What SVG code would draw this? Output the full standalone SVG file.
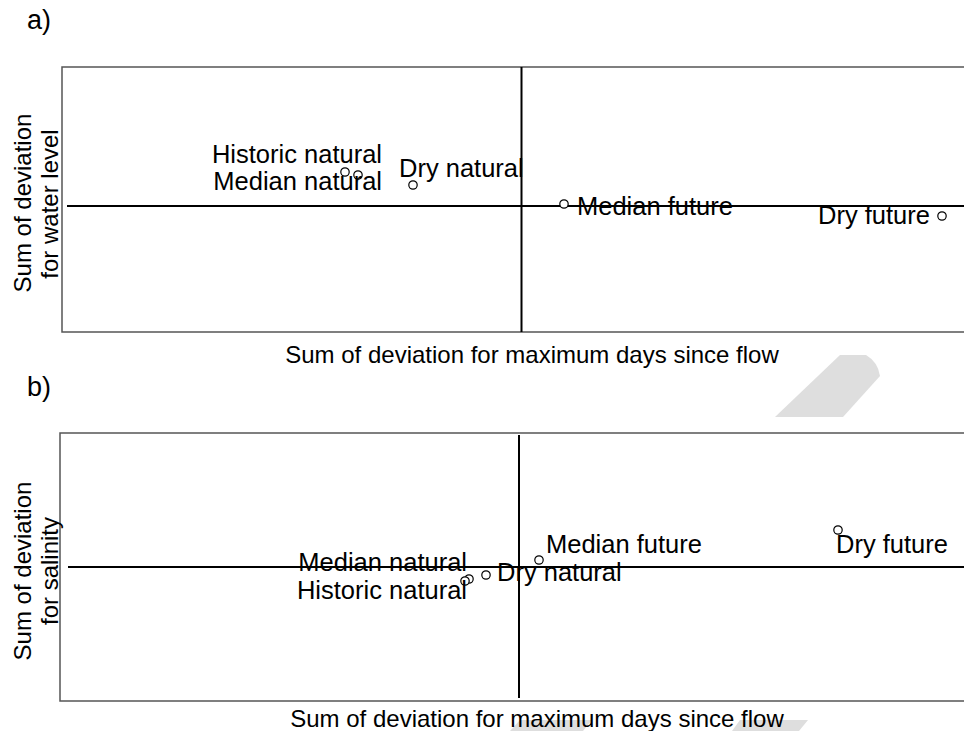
<svg xmlns="http://www.w3.org/2000/svg" width="964" height="731" viewBox="0 0 964 731">
<style>
text{font-family:"Liberation Sans",Arial,sans-serif;fill:#000}
.lbl{font-size:25.5px}
.ax{font-size:24px}
.pl{font-size:27px}
.frame{fill:none;stroke:#555;stroke-width:1.5}
.axis{stroke:#000;stroke-width:2}
.pt{fill:#fff;stroke:#000;stroke-width:1.2}
.wm{fill:#dedede}
</style>
<rect width="964" height="731" fill="#fff"/>
<g id="watermarks">
<path class="wm" d="M775,417 L840,355 L866,355 Q878,362 880,376 L843,417 Z"/>
<path class="wm" d="M520,720 L592,720 L583,731 L510,731 Z"/>
<path class="wm" d="M740,720 L808,720 L799,731 L732,731 Z"/>
</g>
<g id="panel-a">
<text class="pl" x="27" y="29">a)</text>
<rect class="frame" x="62" y="67" width="920" height="265"/>
<g id="axes-a">
<line class="axis" x1="67" y1="206" x2="964" y2="206"/>
<line class="axis" x1="521.5" y1="67" x2="521.5" y2="332"/>
</g>
<text class="ax" transform="translate(31,203) rotate(-90)" text-anchor="middle">Sum of deviation</text>
<text class="ax" transform="translate(58,204) rotate(-90)" text-anchor="middle">for water level</text>
<text class="ax" x="532" y="363" text-anchor="middle">Sum of deviation for maximum days since flow</text>
<g id="a-historic-natural"><circle class="pt" cx="345" cy="172" r="4.2"/><text class="lbl" x="382" y="163" text-anchor="end">Historic natural</text></g>
<g id="a-median-natural"><circle class="pt" cx="358" cy="175" r="4.2"/><text class="lbl" x="382" y="190" text-anchor="end">Median natural</text></g>
<g id="a-dry-natural"><circle class="pt" cx="413" cy="185" r="4.2"/><text class="lbl" x="399" y="177">Dry natural</text></g>
<g id="a-median-future"><circle class="pt" cx="564" cy="204" r="4.2"/><text class="lbl" x="577" y="215">Median future</text></g>
<g id="a-dry-future"><circle class="pt" cx="942" cy="216" r="4.2"/><text class="lbl" x="818" y="224">Dry future</text></g>
</g>
<g id="panel-b">
<text class="pl" x="27" y="396">b)</text>
<rect class="frame" x="60" y="433" width="920" height="268"/>
<g id="axes-b">
<line class="axis" x1="68" y1="567" x2="964" y2="567"/>
<line class="axis" x1="519" y1="435" x2="519" y2="698"/>
</g>
<text class="ax" transform="translate(31,571) rotate(-90)" text-anchor="middle">Sum of deviation</text>
<text class="ax" transform="translate(58,571) rotate(-90)" text-anchor="middle">for salinity</text>
<text class="ax" x="537" y="727" text-anchor="middle">Sum of deviation for maximum days since flow</text>
<g id="b-median-natural"><circle class="pt" cx="469" cy="579" r="4.2"/><text class="lbl" x="467" y="571" text-anchor="end">Median natural</text></g>
<g id="b-historic-natural"><circle class="pt" cx="465" cy="581" r="4.2"/><text class="lbl" x="467" y="599" text-anchor="end">Historic natural</text></g>
<g id="b-dry-natural"><circle class="pt" cx="486" cy="575" r="4.2"/><text class="lbl" x="497" y="581">Dry natural</text></g>
<g id="b-median-future"><circle class="pt" cx="539" cy="560" r="4.2"/><text class="lbl" x="546" y="553">Median future</text></g>
<g id="b-dry-future"><circle class="pt" cx="838" cy="530" r="4.2"/><text class="lbl" x="836" y="553">Dry future</text></g>
</g>
</svg>
